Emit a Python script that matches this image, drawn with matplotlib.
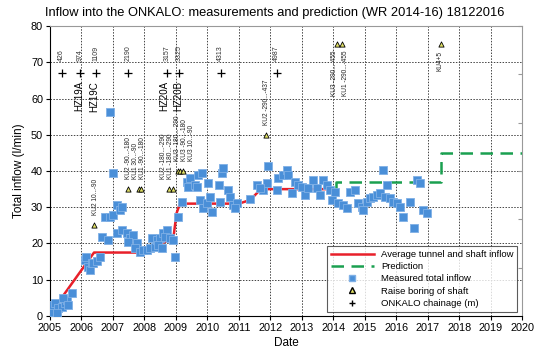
import matplotlib
matplotlib.use("Agg")
import matplotlib.pyplot as plt
from matplotlib.lines import Line2D

plt.rcParams['font.family'] = ['Liberation Sans', 'DejaVu Sans']

# ---- data ----
avg_dates = [2005.0, 2006.4, 2007.95, 2008.3, 2008.6, 2008.92, 2009.02, 2009.13, 2011.0, 2011.36, 2011.7, 2013.9]
avg_vals = [0.5, 17.5, 17.5, 18.8, 20.3, 21.4, 28.3, 31.0, 31.0, 32.0, 35.0, 35.0]

pred_dates = [2014.1, 2014.1, 2017.42, 2017.42, 2020.0]
pred_vals = [35.0, 37.0, 37.0, 45.0, 45.0]

meas_dates = [2005.0, 2005.1, 2005.05, 2005.16, 2005.26, 2005.37, 2005.21, 2005.48, 2005.53,
              2005.42, 2005.58, 2005.69,
              2006.1, 2006.16, 2006.22, 2006.27, 2006.32, 2006.37, 2006.48, 2006.58,
              2006.64, 2006.85, 2006.75, 2006.9, 2007.0, 2007.12, 2007.22, 2007.28,
              2006.9, 2007.01,
              2007.12, 2007.28, 2007.44, 2007.54, 2007.65, 2007.49, 2007.75, 2007.70,
              2007.86, 2007.97, 2008.07, 2008.18, 2008.34, 2008.23, 2008.39, 2008.50,
              2008.60, 2008.71, 2008.65, 2008.81, 2008.92, 2008.97, 2008.44, 2008.55,
              2009.08, 2009.18, 2009.34, 2009.45, 2009.39, 2009.61, 2009.66, 2009.71,
              2009.82, 2009.77, 2009.87, 2009.98, 2010.08, 2010.03, 2010.14, 2010.40,
              2010.38, 2010.46, 2010.51, 2010.67, 2010.72, 2010.81, 2010.93, 2010.88,
              2011.36, 2011.57, 2011.78, 2011.89, 2011.94, 2011.67, 2012.2, 2012.26,
              2012.41, 2012.52, 2012.57, 2012.68, 2012.79, 2012.89, 2013.0, 2013.1,
              2013.21, 2013.37, 2013.47, 2013.58, 2013.68, 2013.79, 2013.9, 2013.95,
              2014.06, 2014.16, 2014.32, 2014.43, 2014.53, 2014.69, 2014.8, 2014.9,
              2014.96, 2015.06, 2015.17, 2015.27, 2015.38, 2015.49, 2015.57, 2015.7,
              2015.64, 2015.8, 2015.91, 2016.02, 2016.12, 2016.23, 2016.44, 2016.55,
              2016.67, 2016.76, 2016.86, 2016.97]
meas_vals = [0.7, 1.2, 3.0, 3.5, 2.1, 2.6, 0.7, 3.5, 4.4,
             5.0, 3.0, 6.2,
             15.5, 16.4, 13.5, 12.7, 14.5, 14.6, 15.2, 16.4,
             21.7, 21.0, 27.4, 27.4, 27.9, 30.6, 29.2, 30.2,
             56.4, 39.4,
             22.8, 23.7, 22.8, 21.4, 22.3, 20.5, 20.1, 18.7,
             17.7, 18.2, 18.2, 18.7, 19.1, 21.4, 21.0, 21.4,
             22.8, 23.7, 21.9, 21.4, 21.0, 16.4, 19.6, 18.7,
             27.4, 31.5, 37.1, 38.0, 35.7, 36.1, 35.7, 38.9,
             39.4, 32.0, 29.7, 31.1, 32.9, 36.6, 28.8, 31.5,
             36.1, 39.4, 40.7, 34.8, 32.9, 30.6, 31.1, 29.7,
             32.2, 36.1, 34.8, 36.6, 41.4, 35.2, 34.8, 38.0,
             38.9, 40.3, 38.9, 33.8, 37.1, 36.1, 35.7, 33.4,
             35.2, 37.5, 35.2, 33.4, 37.5, 36.1, 34.8, 32.0,
             34.3, 31.1, 30.6, 29.7, 34.3, 34.8, 31.1, 30.2,
             29.2, 31.5, 32.5, 32.9, 33.4, 33.8, 40.3, 36.1,
             32.9, 32.5, 31.5, 31.1, 30.2, 27.4, 31.5, 24.2,
             37.5, 36.6, 29.2, 28.3]

raise_dates = [2006.41, 2007.48, 2007.82, 2007.88, 2008.79, 2008.9, 2009.06, 2009.13, 2009.24,
               2011.86, 2014.12, 2014.28, 2017.42]
raise_vals = [25, 35, 35, 35, 35, 35, 40, 40, 40, 50, 75, 75, 75]
raise_labels = ["KU2 10...-90", "KU2 -90...-180", "KU1 30...-90", "KU1 -90...-180",
                "KU2 -180...-290", "KU1 -180...-290", "KU3 -180...-290", "KU3 -90...-180",
                "KU3 10...-90", "KU2 -290...-437", "KU3 -290...-455", "KU1 -290...-455", "KU4+5"]
raise_label_x = [2006.44, 2007.48, 2007.72, 2007.95, 2008.62, 2008.84, 2009.06, 2009.28, 2009.50,
                 2011.89, 2014.04, 2014.40, 2017.38]

chain_dates = [2005.37, 2005.97, 2006.45, 2007.48, 2008.72, 2009.1, 2010.43, 2012.2]
chain_vals = [67, 67, 67, 67, 67, 67, 67, 67]
chain_labels = ["426", "974", "1109", "2190", "3157", "3325", "4313", "4987"]

hz_dates = [2005.92, 2006.41, 2008.64, 2009.06]
hz_labels = ["HZ19A", "HZ19C", "HZ20A", "HZ20B"]

years = list(range(2005, 2021))
yticks = [0, 10, 20, 30, 40, 50, 60, 70, 80]

# ---- figure ----
fig = plt.figure(figsize=(5.49, 3.53), dpi=100)
ax = fig.add_axes([0.091, 0.105, 0.860, 0.821])

ax.set_xlim(2005, 2020)
ax.set_ylim(0, 80)
ax.set_xticks(years)
ax.set_xticklabels([str(y) for y in years], fontsize=7.8)
ax.set_yticks(yticks)
ax.set_yticklabels([str(v) for v in yticks], fontsize=7.8)
ax.grid(True, linestyle=(0, (1.5, 1.5)), color='#444444', linewidth=0.7)
ax.set_axisbelow(True)
ax.tick_params(length=3, width=0.8, pad=2)
for s in ['top', 'right']:
    ax.spines[s].set_color('#999999')

ax.plot(avg_dates, avg_vals, color='#e8202a', lw=1.8, zorder=3)
ax.plot(pred_dates, pred_vals, color='#1aa050', lw=1.8, dashes=(5, 3), zorder=3)
ax.scatter(meas_dates, meas_vals, marker='s', s=30, color='#4a8fd8',
           edgecolors='#7fb0e6', linewidths=0.6, zorder=4)
ax.scatter(raise_dates, raise_vals, marker='^', s=14, color='#e2e266',
           edgecolors='black', linewidths=0.6, zorder=5)
ax.scatter(chain_dates, chain_vals, marker='+', s=30, color='black', linewidths=0.9, zorder=5)

for d, lab in zip(chain_dates, chain_labels):
    ax.text(d, 70.3, lab, rotation=90, ha='center', va='bottom', fontsize=5, color='#333333')

for d, lab in zip(hz_dates, hz_labels):
    ax.text(d, 64.8, lab, rotation=90, ha='center', va='top', fontsize=7, color='black')

for d, v, lab in zip(raise_label_x, raise_vals, raise_labels):
    if v >= 70:
        ax.text(d, v - 1.8, lab, rotation=90, ha='center', va='top', fontsize=4.7, color='#222222')
    else:
        ax.text(d, v + 2.8, lab, rotation=90, ha='center', va='bottom', fontsize=4.7, color='#222222')

ax.set_xlabel("Date", fontsize=8.5, labelpad=3)
ax.set_ylabel("Total inflow (l/min)", fontsize=8.5, labelpad=4)
fig.text(0.082, 0.963, "Inflow into the ONKALO: measurements and prediction (WR 2014-16) 18122016",
         fontsize=9.3, ha='left', va='center')

# secondary right axis ticks (no labels)
ax2 = ax.twinx()
ax2.set_ylim(0, 6)
ax2.set_yticks([1, 2, 3, 4, 5, 6])
ax2.set_yticklabels([])
ax2.tick_params(direction='in', length=3, color='#999999')
for s in ax2.spines.values():
    s.set_visible(False)

handles = [
    Line2D([], [], color='#e8202a', lw=1.8),
    Line2D([], [], color='#1aa050', lw=1.8, dashes=(5, 3)),
    Line2D([], [], marker='s', color='#4a8fd8', markeredgecolor='#7fb0e6', linestyle='none', markersize=5),
    Line2D([], [], marker='^', color='#e2e266', markeredgecolor='black', linestyle='none', markersize=4),
    Line2D([], [], marker='+', color='black', linestyle='none', markersize=5),
]
labels = ["Average tunnel and shaft inflow", "Prediction", "Measured total inflow",
          "Raise boring of shaft", "ONKALO chainage (m)"]
leg = ax.legend(handles, labels, loc='lower right', bbox_to_anchor=(0.99, 0.014),
                fontsize=6.8, frameon=True, fancybox=False, edgecolor='#333333',
                borderaxespad=0, handlelength=4.5, labelspacing=0.35, borderpad=0.4)
leg.get_frame().set_linewidth(0.8)
leg.set_zorder(10)

fig.savefig("out.png", dpi=100)
